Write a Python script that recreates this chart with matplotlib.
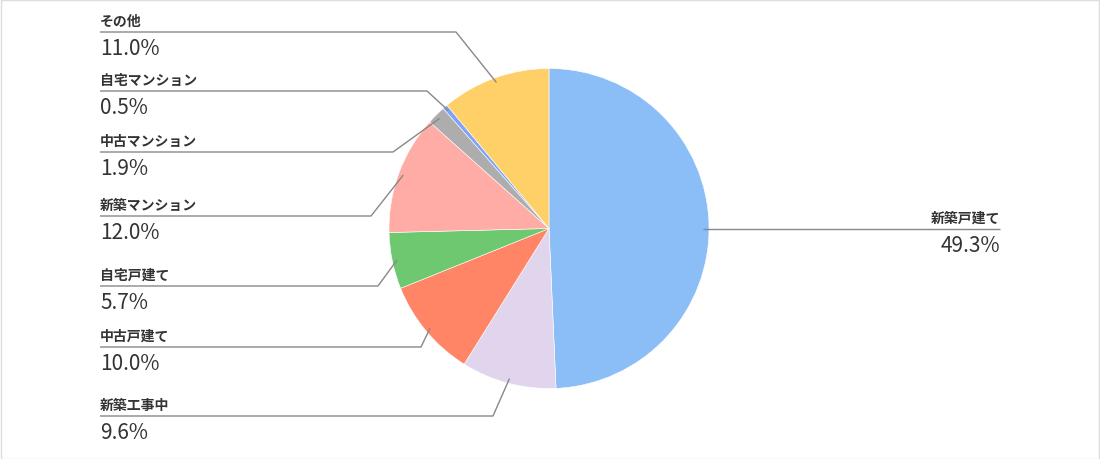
import numpy as np
import matplotlib
matplotlib.use("Agg")
import matplotlib.pyplot as plt
from matplotlib.patches import Rectangle

plt.rcParams['font.family'] = ['Noto Sans CJK JP', 'DejaVu Sans']

# data (clockwise from 12 o'clock)
labels = ['新築戸建て', '新築工事中', '中古戸建て', '自宅戸建て',
          '新築マンション', '中古マンション', '自宅マンション', 'その他']
shares = [49.3, 9.6, 10.0, 5.7, 12.0, 1.9, 0.5, 11.0]
colors = ['#8bbdf6', '#e1d5ee', '#ff8566', '#6dc870',
          '#ffaca6', '#adadad', '#7fa3f6', '#ffd067']

# layout in pixels (y measured from top)
W, H = 1100, 460
cx, cy, R = 549, 229.5, 160
label_y = [230, 417, 348, 287, 217, 153, 92, 33]      # underline heights
elbow_x = [None, 493, 421, 378, 371, 393, 427, 456]   # where the leader turns
left_x, right_x = 100, 1000

fig = plt.figure(figsize=(W / 100, H / 100), dpi=100)
ax = fig.add_axes([0, 0, 1, 1])

def Y(y):
    return H - y

wedges, _ = ax.pie(shares, colors=colors, startangle=90, counterclock=False,
                   center=(cx, Y(cy)), radius=R, normalize=True,
                   wedgeprops=dict(edgecolor='white', linewidth=0.4))
# pie() sets its own limits, so set the pixel frame afterwards
ax.set_xlim(0, W)
ax.set_ylim(0, H)
ax.set_aspect('equal')
ax.axis('off')

line_kw = dict(color='#888888', lw=1, solid_capstyle='butt')
name_kw = dict(fontsize=10, fontweight='bold', color='#333333')
val_kw = dict(fontsize=15, color='#333333')

for w, lab, s, ly, ex in zip(wedges, labels, shares, label_y, elbow_x):
    ang = np.deg2rad((w.theta1 + w.theta2) / 2)
    px = cx + 0.97 * R * np.cos(ang)
    py = Y(cy) + 0.97 * R * np.sin(ang)
    if ex is None:
        ax.plot([px - 1, right_x], [Y(ly), Y(ly)], **line_kw)
        ax.text(right_x, Y(ly) + 4, lab, ha='right', va='bottom', **name_kw)
        ax.text(right_x, Y(ly) - 5, f'{s:.1f}%', ha='right', va='top', **val_kw)
    else:
        ax.plot([px, ex, left_x], [py, Y(ly), Y(ly)], **line_kw)
        ax.text(left_x, Y(ly) + 4, lab, ha='left', va='bottom', **name_kw)
        ax.text(left_x, Y(ly) - 5, f'{s:.1f}%', ha='left', va='top', **val_kw)

fig.patches.append(Rectangle((0.5 / W, 0.5 / H), 1 - 1.5 / W, 1 - 1.5 / H,
                             transform=fig.transFigure, fill=False,
                             edgecolor='#dddddd', lw=1))

fig.savefig('out.png', dpi=100, facecolor='white')
